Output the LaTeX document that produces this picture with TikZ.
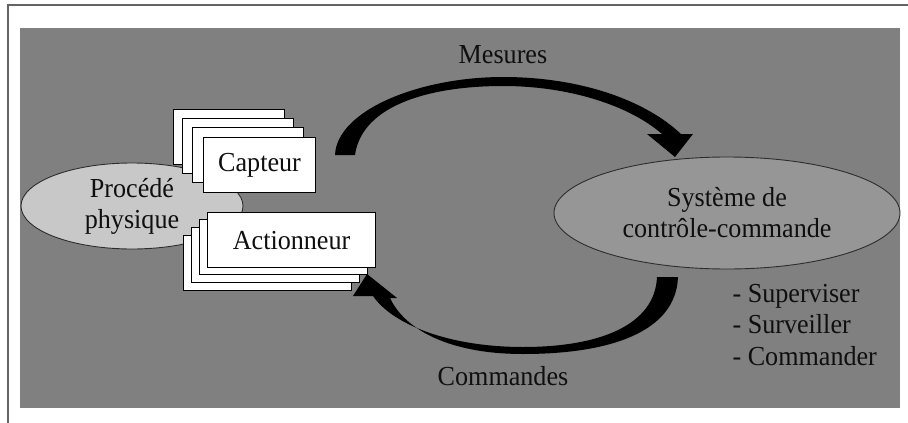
\documentclass[tikz,border=0pt]{standalone}
\usepackage{fontspec}
\setmainfont[FakeStretch=0.95]{Liberation Serif}
\usetikzlibrary{shapes.geometric}
\definecolor{bggray}{RGB}{128,128,128}
\definecolor{procfill}{RGB}{200,200,200}
\definecolor{sysfill}{RGB}{150,150,150}
\definecolor{edgegray}{RGB}{45,45,45}
\definecolor{framegray}{RGB}{100,100,100}
\definecolor{inktext}{RGB}{15,15,15}
\begin{document}
\begin{tikzpicture}[x=1pt,y=-1pt,
  txt/.style={font=\fontsize{27.5}{31}\selectfont, text=inktext},
  card/.style={draw=black, line width=1.1pt, fill=white, inner sep=0pt, anchor=north west},
  blob/.style={ellipse, draw=edgegray, line width=0.9pt, inner sep=0pt, align=center, txt},
  bigarrow/.style={fill=black}
]
\useasboundingbox (0,0) rectangle (908,423);
\fill[white] (0,0) rectangle (908,423);
\draw[framegray, line width=1.5pt] (8,423) -- (8,5) -- (908,5);
\fill[bggray] (20,28) rectangle (900,408);

% ellipses
\node[blob, fill=procfill, minimum width=222pt, minimum height=86pt] (proc) at (132,206) {Procédé\\physique};
\node[blob, fill=sysfill, minimum width=346pt, minimum height=112pt] (sys) at (727,213) {Système de\\contrôle-commande};

% capteur stack
\node[card, minimum width=111pt, minimum height=55pt] (c1) at (173,109) {};
\node[card, minimum width=111pt, minimum height=55pt] (c2) at (182,118) {};
\node[card, minimum width=111pt, minimum height=55pt] (c3) at (192,127) {};
\node[card, minimum width=112pt, minimum height=55pt, txt] (capt) at (203,137) {Capteur};

% actionneur stack
\node[card, minimum width=168pt, minimum height=55pt] (a4) at (183,235) {};
\node[card, minimum width=168pt, minimum height=55pt] (a3) at (191,227) {};
\node[card, minimum width=168pt, minimum height=55pt] (a2) at (199,219) {};
\node[card, minimum width=168pt, minimum height=55pt, txt] (act) at (207,212) {Actionneur};

% Mesures arrow
\fill[bigarrow] (335,155) .. controls (337,110) and (420,77) .. (503,77)
  .. controls (580,77) and (645,100) .. (681,134)
  -- (693,134) -- (675,157) -- (647,134) -- (662,134)
  .. controls (630,106) and (570,86) .. (503,86)
  .. controls (430,86) and (362,105) .. (355,155) -- cycle;

% Commandes arrow
\fill[bigarrow] (678,277) .. controls (676,332) and (610,354) .. (523,354)
  .. controls (450,354) and (405,330) .. (390,298)
  -- (397,298) -- (367,274) -- (353,296) -- (373,296)
  .. controls (393,325) and (450,347) .. (523,347)
  .. controls (600,347) and (655,325) .. (657,277) -- cycle;

% labels
\node[txt, anchor=base] (mes) at (503,63) {Mesures};
\node[txt, anchor=base] (com) at (503,385) {Commandes};
\node[txt, anchor=base west] (l1) at (729,302) {- Superviser};
\node[txt, anchor=base west] (l2) at (729,333) {- Surveiller};
\node[txt, anchor=base west] (l3) at (729,365) {- Commander};
\end{tikzpicture}
\end{document}
